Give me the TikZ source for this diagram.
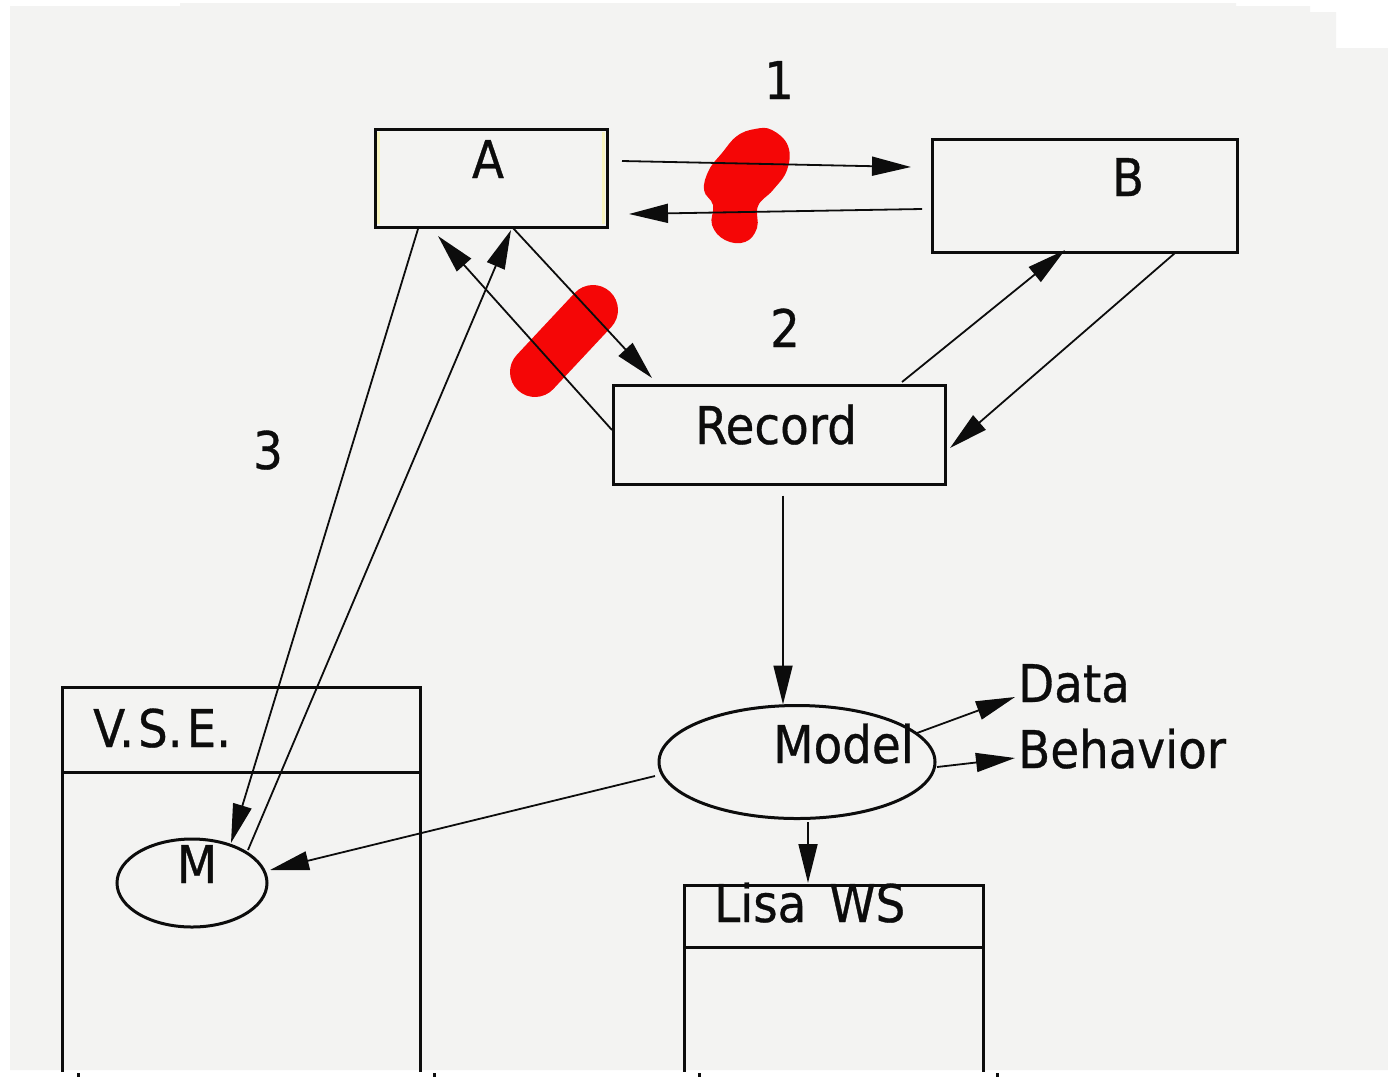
\documentclass[tikz,border=0pt]{standalone}
\usepackage{fontspec}
\newfontfamily\lblfont[FakeStretch=0.9,FakeBold=0.6]{DejaVu Sans}
\usetikzlibrary{arrows.meta,shapes.geometric,calc}
\definecolor{paper}{RGB}{243,243,242}
\definecolor{ink}{RGB}{12,12,12}
\definecolor{blot}{RGB}{245,6,6}
\definecolor{paleyellow}{RGB}{248,244,190}
\begin{document}
\begin{tikzpicture}[x=1pt,y=-1pt,
  box/.style={draw=ink, line width=3pt, rectangle, inner sep=0pt, outer sep=0pt},
  oval/.style={draw=ink, line width=3pt, ellipse, inner sep=0pt, outer sep=0pt},
  lbl/.style={font=\lblfont\fontsize{52}{60}\selectfont, inner sep=0pt, anchor=base, text=ink},
  flow/.style={draw=ink, line width=1.8pt, -{Triangle[length=39pt,width=19pt]}},
  frame/.style={draw=ink, line width=3pt},
]
\useasboundingbox (0,0) rectangle (1388,1077);
% sheet
\fill[white] (0,0) rectangle (1388,1077);
\fill[paper] (10,1070) -- (10,6) -- (180,6) -- (180,3) -- (1236,3) -- (1236,6)
  -- (1310,6) -- (1310,12) -- (1336,12) -- (1336,48) -- (1388,48) -- (1388,1070) -- cycle;

% red marker strokes
\fill[blot] plot[smooth cycle, tension=0.7] coordinates {(772,130) (788,146) (787,170) (773,190)
  (758,206) (757,228) (745,242) (725,240) (712,225) (713,205) (704,190) (709,170) (722,153) (737,136) (755,129)};
\draw[blot, line width=50pt, line cap=round] (593,310) -- (535,372);

% boxes
\node[box, minimum width=232pt, minimum height=98pt] (A) at (491,178) {};
\draw[paleyellow, line width=3pt] ([shift={(3.5,3)}]A.north west) -- ([shift={(3.5,-3)}]A.south west);
\draw[paleyellow, line width=3pt] ([shift={(-3.5,3)}]A.north east) -- ([shift={(-3.5,-3)}]A.south east);
\node[box, minimum width=305pt, minimum height=113pt] (B) at (1084.5,195.5) {};
\node[box, minimum width=332pt, minimum height=99pt] (Rec) at (779,434.5) {};
\node[oval, minimum width=276pt, minimum height=113pt] (Model) at (797,762) {};
\node[box, minimum width=358pt, minimum height=85pt] (vse) at (241,729.5) {};
\node[box, minimum width=299pt, minimum height=62pt] (lisa) at (833.5,916) {};
\node[oval, minimum width=150pt, minimum height=88pt] (M) at (192,883) {};

% open lower parts of the two frames
\draw[frame] (vse.south west) -- ++(0,300);
\draw[frame] (vse.south east) -- ++(0,300);
\draw[frame] (lisa.south west) -- ++(0,125);
\draw[frame] (lisa.south east) -- ++(0,125);
\foreach \tx in {78,434,699,997} \draw[ink, line width=3pt] (\tx,1073) -- (\tx,1077);

% labels
\node[lbl] (tA) at (488,178) {A};
\node[lbl] (tB) at (1128,196) {B};
\node[lbl] (tRec) at (776,444) {Record};
\node[lbl] (t1) at (779,99) {1};
\node[lbl] (t2) at (785,347) {2};
\node[lbl] (t3) at (268,469) {3};
\node[lbl, anchor=base west] (tModel) at (773,763) {Model};
\node[lbl, anchor=base west] (tData) at (1018,702) {Data};
\node[lbl, anchor=base west] (tBeh) at (1018,768) {Behavior};
\node[lbl, anchor=base west] (tLisa) at (714,922) {Lisa\hspace{23pt}WS};
\node[lbl, anchor=base west] (tVSE) at (93,747) {V.\kern4pt S.\kern4pt E.};
\node[lbl] (tM) at (197,883) {M};

% connectors
\draw[flow] ([shift={(15,-17)}]A.east) -- ([shift={(-21,-28.5)}]B.west);
\draw[flow] ([shift={(-10,13.5)}]B.west) -- ([shift={(22,36)}]A.east);
\draw[flow] ([shift={(22,1)}]A.south) -- ([shift={(39,-7)}]Rec.north west);
\draw[flow] ([shift={(-1,-4.5)}]Rec.west) -- ([shift={(-53,9)}]A.south);
\draw[flow] ([shift={(-43,-3)}]Rec.north east) -- ([shift={(-19.5,-2)}]B.south);
\draw[flow] ([shift={(90.5,1)}]B.south) -- ([shift={(5,13.5)}]Rec.east);
\draw[flow] ([shift={(4,11.5)}]Rec.south) -- ([shift={(-14,-1)}]Model.north);
\draw[flow] ([shift={(-18,-29)}]Model.east) -- ([shift={(-3,-5)}]tData.base west);
\draw[flow] ([shift={(2,5)}]Model.east) -- ([shift={(-3,-10)}]tBeh.base west);
\draw[flow] ([shift={(11,3.5)}]Model.south) -- ([shift={(-25.5,-2)}]lisa.north);
\draw[flow] ([shift={(-4,14)}]Model.west) -- ([shift={(3,-13)}]M.east);
\draw[flow] ([shift={(43,2)}]A.south west) -- ([shift={(39,4)}]M.north);
\draw[flow] ([shift={(56,11)}]M.north) -- ([shift={(20,3)}]A.south);
\end{tikzpicture}
\end{document}
